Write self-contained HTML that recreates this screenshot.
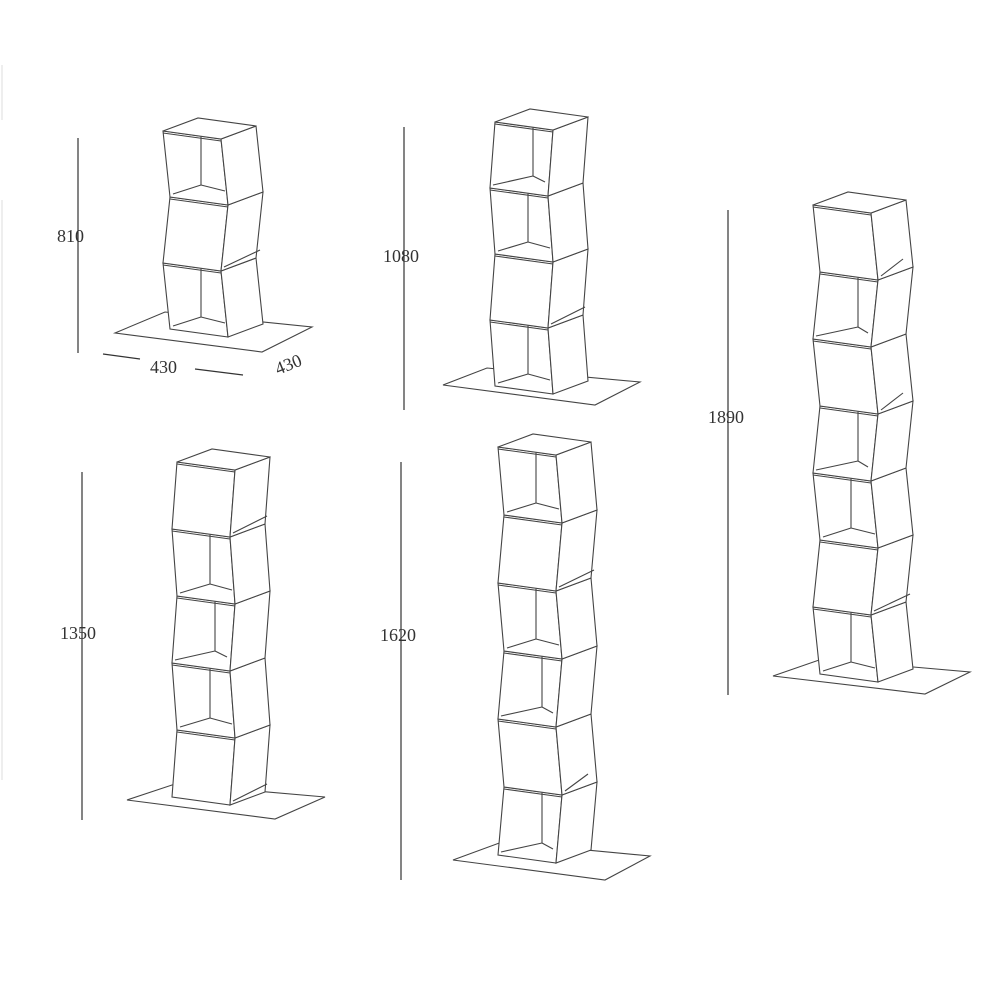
<!DOCTYPE html>
<html><head><meta charset="utf-8"><style>
html,body{margin:0;padding:0;background:#fff;width:1000px;height:1000px;overflow:hidden}
svg{position:absolute;left:0;top:0}
text{font-family:"Liberation Serif",serif;font-size:18px;fill:#333}
</style></head><body>
<svg id="s" width="1000" height="1000" viewBox="0 0 1000 1000">
<line x1="2" y1="65" x2="2" y2="120" stroke="#ddd" stroke-width="1"/>
<line x1="2" y1="200" x2="2" y2="780" stroke="#ddd" stroke-width="1"/>
<g stroke="#333" stroke-width="1.2">
<line x1="78" y1="138" x2="78" y2="353"/>
<line x1="404" y1="127" x2="404" y2="410"/>
<line x1="728" y1="210" x2="728" y2="695"/>
<line x1="82" y1="472" x2="82" y2="820"/>
<line x1="401" y1="462" x2="401" y2="880"/>
<line x1="103" y1="354" x2="140" y2="359"/>
<line x1="195" y1="369" x2="243" y2="375"/>
</g>
<text x="57" y="242">810</text>
<text x="383" y="262">1080</text>
<text x="708" y="423">1890</text>
<text x="60" y="639">1350</text>
<text x="380" y="641">1620</text>
<text x="150" y="373">430</text>
<text x="0" y="0" transform="translate(278,375) rotate(-22)">430</text>
<g id="g" fill="none" stroke="#444" stroke-width="1.1"></g>
</svg>
<script>
var g=document.getElementById('g'),NS='http://www.w3.org/2000/svg';
function P(pts,fill){var p=document.createElementNS(NS,'polygon');p.setAttribute('points',pts.map(function(q){return q[0]+','+q[1]}).join(' '));if(fill)p.setAttribute('fill','#fff');g.appendChild(p);}
function L(a,b){var l=document.createElementNS(NS,'line');l.setAttribute('x1',a[0]);l.setAttribute('y1',a[1]);l.setAttribute('x2',b[0]);l.setAttribute('y2',b[1]);g.appendChild(l);}
function tower(x0,y0,n,h,base,pat,sh){
  P(base,true);
  var W=58,dx=35,dy=-13,s=[];
  for(var i=0;i<=n;i++)s.push(x0+(i%2?sh:0));
  for(var i=n-1;i>=0;i--){
    var y=y0+i*h,a=s[i],b=s[i+1];
    var TL=[a,y],TR=[a+W,y+8],BR=[b+W,y+h+8],BL=[b,y+h];
    var TR2=[TR[0]+dx,TR[1]+dy],BR2=[BR[0]+dx,BR[1]+dy];
    P([TL,TR,BR,BL],true);P([TR,TR2,BR2,BR],true);
    if(i==0)P([TL,TR,TR2,[a+dx,y+dy]],true);
    L([TL[0],TL[1]+2],[TR[0],TR[1]+2]);
    if(pat[i]=='o'){
      var bx=a+38,by1=y+6,by2=y+h-12;
      L([bx,by1],[bx,by2]);L([bx,by2],[b+3,y+h-3]);L([bx,by2],[b+W-3,y+h-6]);
    } else {
      L([TR[0]+dx-3,BR[1]+dy-8],[BR[0]+3,BR[1]-4]);
    }
  }
}
tower(163,131,3,66,[[115,333],[165,312],[312,327],[262,352]],'oco',7);
tower(495,122,4,66,[[443,385],[487,368],[640,382],[595,405]],'ooco',-5);
tower(813,205,7,67,[[773,676],[822,659],[970,672],[925,694]],'cocoeco'.replace('e','o'),7);
tower(177,462,5,67,[[127,800],[175,784],[325,797],[275,819]],'coooco'.slice(0,5),-5);
tower(498,447,6,68,[[453,860],[502,842],[650,856],[605,880]],'ocooco',6);
</script>
</body></html>
